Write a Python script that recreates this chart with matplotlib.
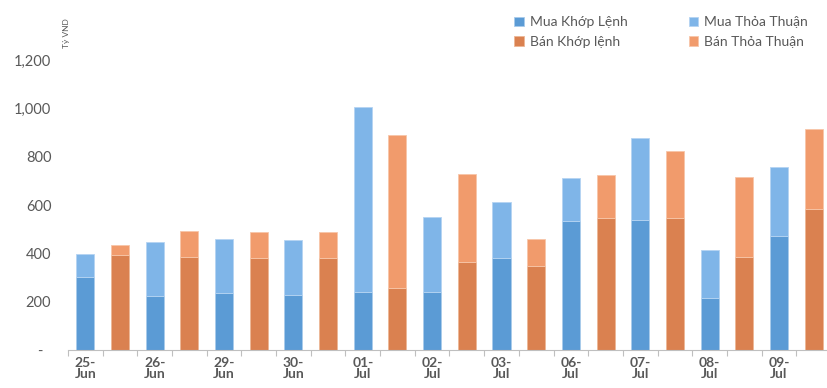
import numpy as np
import matplotlib
matplotlib.use("Agg")
import matplotlib.pyplot as plt
from matplotlib.ticker import FixedLocator

plt.rcParams["font.family"] = ["Lato", "DejaVu Sans"]

# Dates (each date has a buy bar then a sell bar)
dates = ["25-\nJun", "26-\nJun", "29-\nJun", "30-\nJun", "01-\nJul", "02-\nJul",
         "03-\nJul", "06-\nJul", "07-\nJul", "08-\nJul", "09-\nJul"]

# Values in Tỷ VND
mua_khop = [303, 223, 234, 229, 241, 241, 381, 534, 539, 214, 472]
mua_thoa_thuan = [94, 225, 225, 225, 763, 308, 230, 179, 337, 201, 285]
ban_khop = [393, 386, 381, 381, 256, 363, 348, 545, 545, 387, 583]
ban_thoa_thuan = [40, 108, 106, 106, 636, 366, 111, 179, 280, 330, 331]

c_mk = "#5B9BD5"
c_mt = "#7FB5E8"
c_bk = "#DA8150"
c_bt = "#F19B6C"
grey = "#595959"

fig = plt.figure(figsize=(8.27, 3.88), dpi=100)
ax = fig.add_axes([0.0822, 0.098, 0.9226, 0.747])

n = len(dates)
x_buy = np.arange(n) * 2
x_sell = x_buy + 1
w = 0.52

b1 = ax.bar(x_buy, mua_khop, w, color=c_mk, edgecolor="#A9CBEB", linewidth=0.6, label="Mua Khớp Lệnh")
b2 = ax.bar(x_buy, mua_thoa_thuan, w, bottom=mua_khop, color=c_mt, edgecolor="#B5D4F2", linewidth=0.6, label="Mua Thỏa Thuận")
b3 = ax.bar(x_sell, ban_khop, w, color=c_bk, edgecolor="#EDB796", linewidth=0.6, label="Bán Khớp lệnh")
b4 = ax.bar(x_sell, ban_thoa_thuan, w, bottom=ban_khop, color=c_bt, edgecolor="#F7C6A9", linewidth=0.6, label="Bán Thỏa Thuận")

ax.set_xlim(-0.5, 2 * n - 0.5)
ax.set_ylim(0, 1200)

yt = np.arange(0, 1201, 200)
ax.set_yticks(yt)
ax.set_yticklabels(["-  "] + [f"{v:,}" for v in yt[1:]])
ax.tick_params(axis="y", length=0, pad=12, labelsize=10.5, labelcolor=grey)

ax.set_xticks(x_buy)
ax.set_xticklabels(dates, fontweight="bold", linespacing=0.95)
ax.tick_params(axis="x", which="major", length=0, pad=5, labelsize=10, labelcolor=grey)
ax.xaxis.set_minor_locator(FixedLocator(np.arange(-0.5, 2 * n, 1)))
ax.tick_params(axis="x", which="minor", length=4, color="#BFBFBF", width=0.8)

for s in ["top", "right", "left"]:
    ax.spines[s].set_visible(False)
ax.spines["bottom"].set_color("#BFBFBF")
ax.spines["bottom"].set_linewidth(0.8)

fig.text(0.081, 0.915, "Tỷ VND", rotation=90, fontsize=6, color=grey, ha="center", va="center")

fig.legend([b1, b3, b2, b4],
           ["Mua Khớp Lệnh", "Bán Khớp lệnh", "Mua Thỏa Thuận", "Bán Thỏa Thuận"],
           ncol=2, loc="upper left", bbox_to_anchor=(0.607, 0.99), frameon=False,
           fontsize=10, labelcolor=grey, handlelength=0.7, handleheight=0.7,
           handletextpad=0.4, columnspacing=4.4, labelspacing=0.55)

fig.savefig("out.png", dpi=100)
